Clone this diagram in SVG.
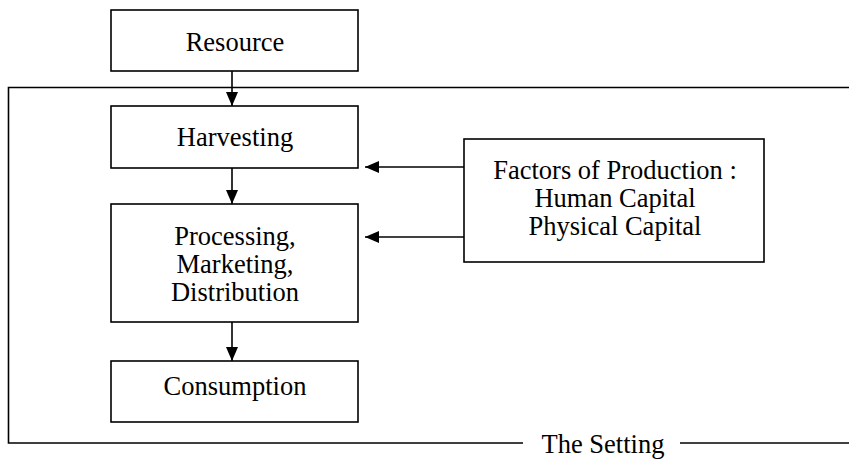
<svg xmlns="http://www.w3.org/2000/svg" width="849" height="459" viewBox="0 0 849 459">
<defs>
<marker id="ah" viewBox="0 0 14 12" refX="14" refY="6" markerWidth="14" markerHeight="12" markerUnits="userSpaceOnUse" orient="auto">
<path d="M0,0 L14,6 L0,12 z" fill="#000"/>
</marker>
<style>
.box{fill:#fff;stroke:#000;stroke-width:1.6}
.t{font-family:"Liberation Serif","Times New Roman",serif;font-size:26.5px;fill:#000;text-anchor:middle}
.c{stroke:#000;stroke-width:1.6;fill:none}
</style>
</defs>
<rect width="849" height="459" fill="#fff"/>
<g id="setting">
<path class="c" d="M849,87.5 L8.5,87.5 L8.5,443 L523,443"/>
<path class="c" d="M680,443 L849,443"/>
<text class="t" x="603" y="453">The Setting</text>
</g>
<g id="connectors">
<line class="c" x1="232" y1="71" x2="232" y2="106" marker-end="url(#ah)"/>
<line class="c" x1="232" y1="168" x2="232" y2="204" marker-end="url(#ah)"/>
<line class="c" x1="232" y1="322" x2="232" y2="361" marker-end="url(#ah)"/>
<line class="c" x1="464" y1="167" x2="365" y2="167" marker-end="url(#ah)"/>
<line class="c" x1="464" y1="237" x2="365" y2="237" marker-end="url(#ah)"/>
</g>
<g id="resource">
<rect class="box" x="111" y="10" width="247" height="61"/>
<text class="t" x="235" y="51">Resource</text>
</g>
<g id="harvesting">
<rect class="box" x="111" y="106" width="247" height="62"/>
<text class="t" x="235" y="146">Harvesting</text>
</g>
<g id="processing">
<rect class="box" x="111" y="204" width="247" height="118"/>
<text class="t" x="235" y="245">Processing,</text>
<text class="t" x="235" y="273">Marketing,</text>
<text class="t" x="235" y="301">Distribution</text>
</g>
<g id="consumption">
<rect class="box" x="111" y="361" width="247" height="61"/>
<text class="t" x="235" y="395">Consumption</text>
</g>
<g id="factors">
<rect class="box" x="464" y="139" width="300" height="123"/>
<text class="t" x="615" y="179">Factors of Production :</text>
<text class="t" x="615" y="207">Human Capital</text>
<text class="t" x="615" y="235">Physical Capital</text>
</g>
</svg>
